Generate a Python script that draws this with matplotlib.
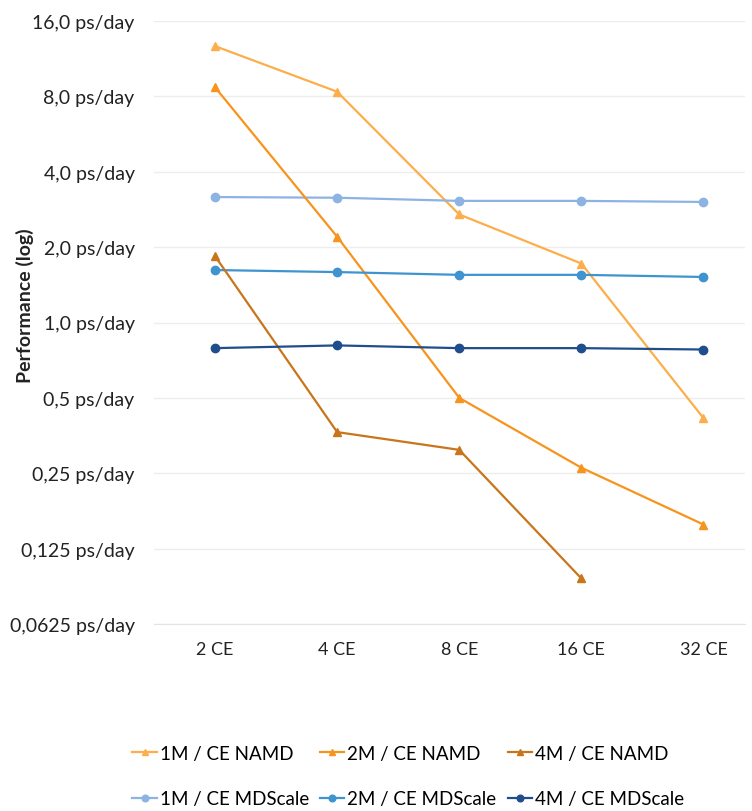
import matplotlib.pyplot as plt
import numpy as np

plt.rcParams['font.family'] = ['Lato', 'DejaVu Sans']

categories = ["2 CE", "4 CE", "8 CE", "16 CE", "32 CE"]

namd_1m = [12.7, 8.35, 2.7, 1.72, 0.415]
namd_2m = [8.7, 2.2, 0.5, 0.263, 0.156]
namd_4m = [1.84, 0.365, 0.31, 0.095, np.nan]

mds_1m = [3.17, 3.15, 3.06, 3.06, 3.03]
mds_2m = [1.62, 1.59, 1.55, 1.55, 1.52]
mds_4m = [0.79, 0.81, 0.79, 0.79, 0.78]

y_ticks = [0.0625, 0.125, 0.25, 0.5, 1, 2, 4, 8, 16]
y_labels = ["0,0625 ps/day", "0,125 ps/day", "0,25 ps/day", "0,5 ps/day", "1,0 ps/day",
            "2,0 ps/day", "4,0 ps/day", "8,0 ps/day", "16,0 ps/day"]

# order so that ncol=3 gives NAMD on row 1 and MDScale on row 2
series = [
    ("1M / CE NAMD", namd_1m, "#FDAE4B", "^"),
    ("1M / CE MDScale", mds_1m, "#8DB3E2", "o"),
    ("2M / CE NAMD", namd_2m, "#F7941D", "^"),
    ("2M / CE MDScale", mds_2m, "#3F94D0", "o"),
    ("4M / CE NAMD", namd_4m, "#C8751B", "^"),
    ("4M / CE MDScale", mds_4m, "#1F4E8C", "o"),
]

fig = plt.figure(figsize=(7.52, 8.12), dpi=100)
ax = fig.add_axes([154/752, 1 - 625/812, (745 - 154)/752, (625 - 22)/812])

x = np.arange(len(categories))
for name, vals, col, mk in series:
    ax.plot(x, vals, color=col, marker=mk, markersize=6, linewidth=1.6, label=name)

ax.set_yscale('log', base=2)
ax.set_ylim(0.0625, 16)
ax.set_yticks(y_ticks)
ax.set_yticklabels(y_labels)
ax.minorticks_off()
ax.set_xlim(-0.5, 4.34)
ax.set_xticks(x)
ax.set_xticklabels(categories)

ax.grid(axis='y', color='#EDEDED', linewidth=1)
ax.set_axisbelow(True)
for s in ['top', 'right', 'left']:
    ax.spines[s].set_visible(False)
ax.spines['bottom'].set_color('#E3E3E3')
ax.tick_params(length=0, colors='#222222')
ax.tick_params(axis='x', labelsize=13, pad=12)
ax.tick_params(axis='y', labelsize=14, pad=14)

fig.text(25/752, 1 - 306/812, "Performance (log)", rotation=90, ha='center', va='center',
         fontsize=14, fontweight='bold', color='#222222')

fig.legend(*ax.get_legend_handles_labels(), ncol=3, loc='center left',
           bbox_to_anchor=(123/752, 1 - 777/812), frameon=False, borderpad=0,
           fontsize=13.5, handlelength=1.3, handletextpad=0.15, columnspacing=0.6,
           labelspacing=1.5, markerscale=0.8)

fig.savefig("out.png", dpi=100)
